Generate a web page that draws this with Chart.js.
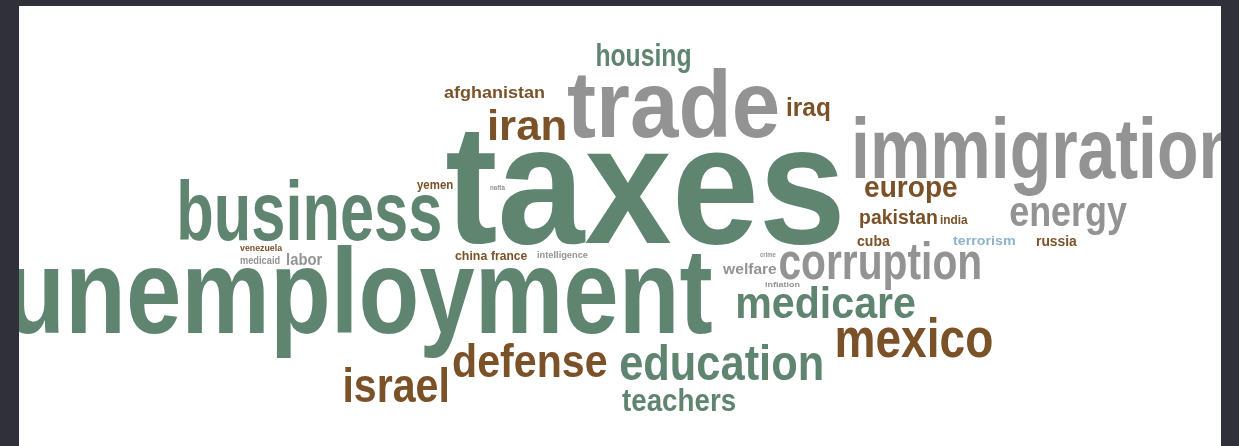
<!DOCTYPE html>
<html>
<head>
<meta charset="utf-8">
<script src="https://cdn.jsdelivr.net/npm/chart.js@4.4.1/dist/chart.umd.min.js"></script>
<style>
html,body{margin:0;padding:0;background:#2f3039;overflow:hidden;}
canvas{display:block;}
</style>
</head>
<body>
<canvas id="c" width="1239" height="446"></canvas>
<script>
// Word cloud terms
const words = ["taxes","unemployment","business","trade","immigration","housing","afghanistan","iran","iraq","europe","energy","pakistan","india","cuba","terrorism","russia","corruption","medicare","mexico","education","defense","israel","teachers","labor","venezuela","medicaid","yemen","nafta","china","france","intelligence","crime","welfare","inflation"];
// Weight of each term (drawn as font size)
const weights = [168,120,83,94,85,31,16,43,26,30,43,21,12,14,13,14,52,45,55,50,46,48,31,16,9,10,12,7,13,13,9,7,14,8];
// Category of each term: 0 = domestic (green), 1 = economy/policy (gray), 2 = foreign (brown), 3 = security (blue)
const groups = [0,0,0,1,1,0,2,2,2,2,1,2,2,2,3,2,1,0,2,0,2,2,0,1,2,1,2,1,2,2,1,1,1,1];
// Layout coordinates: left edge, right edge, baseline
const xLeft  = [447,10,180,568,855,597,444,490,787,865,1010,860,940,857,953,1036,780,737,837,620,453,345,622,287,240,240,417,490,455,491,537,760,722,765];
const xRight = [840,712,440,778,1236,690,544,565,830,957,1127,937,968,890,1015,1077,980,915,992,822,607,447,735,322,283,280,453,505,488,527,588,776,777,800];
const yBase  = [243,333,240,137,178,66,98,140,116,197,226,224,224,246,245,246,279,318,357,380,377,402,411,265,251,264,189,190,260,260,258,257,274,287];

const palette = ['#5f8571','#939393','#7b5128','#8db3cc'];
const FONT = '"Liberation Sans Narrow","Liberation Sans",Arial,sans-serif';

const panelPlugin = {
  id: 'panel',
  beforeDraw(chart) {
    const {ctx, scales:{x, y}} = chart;
    ctx.save();
    ctx.fillStyle = '#2f3039';
    ctx.fillRect(0, 0, chart.width, chart.height);
    ctx.fillStyle = '#ffffff';
    const l = x.getPixelForValue(19), r = x.getPixelForValue(1221);
    const t = y.getPixelForValue(6), b = y.getPixelForValue(446);
    ctx.fillRect(l, t, r - l, b - t);
    ctx.restore();
  }
};

const wordPlugin = {
  id: 'words',
  afterDatasetsDraw(chart) {
    const {ctx, scales:{x, y}} = chart;
    const meta = chart.getDatasetMeta(0);
    ctx.save();
    const l = x.getPixelForValue(19), r = x.getPixelForValue(1221);
    const t = y.getPixelForValue(6), b = y.getPixelForValue(446);
    ctx.beginPath();
    ctx.rect(l, t, r - l, b - t);
    ctx.clip();
    meta.data.forEach((pt, i) => {
      const raw = chart.data.datasets[0].data[i];
      const px = pt.x;
      const py = pt.y;
      const pr = x.getPixelForValue(raw.xr);
      ctx.font = 'bold ' + raw.w + 'px ' + FONT;
      ctx.fillStyle = palette[raw.g];
      ctx.textBaseline = 'alphabetic';
      ctx.textAlign = 'left';
      const m = ctx.measureText(raw.word);
      const w0 = m.actualBoundingBoxRight + m.actualBoundingBoxLeft;
      const sx = (pr - px) / w0;
      ctx.save();
      ctx.translate(px, py);
      ctx.scale(sx, 1);
      ctx.fillText(raw.word, m.actualBoundingBoxLeft, 0);
      ctx.restore();
    });
    ctx.restore();
  }
};

const points = words.map((wd, i) => ({x: xLeft[i], y: yBase[i], xr: xRight[i], w: weights[i], g: groups[i], word: wd}));

new Chart(document.getElementById('c'), {
  type: 'scatter',
  data: { datasets: [{ data: points, pointRadius: 0, pointHoverRadius: 0 }] },
  options: {
    responsive: false,
    animation: false,
    devicePixelRatio: 1,
    layout: { padding: 0 },
    plugins: { legend: {display:false}, tooltip: {enabled:false} },
    events: [],
    scales: {
      x: { type: 'linear', min: 0, max: 1239, display: false },
      y: { type: 'linear', min: 0, max: 446, reverse: true, display: false }
    }
  },
  plugins: [panelPlugin, wordPlugin]
});
</script>
</body>
</html>
